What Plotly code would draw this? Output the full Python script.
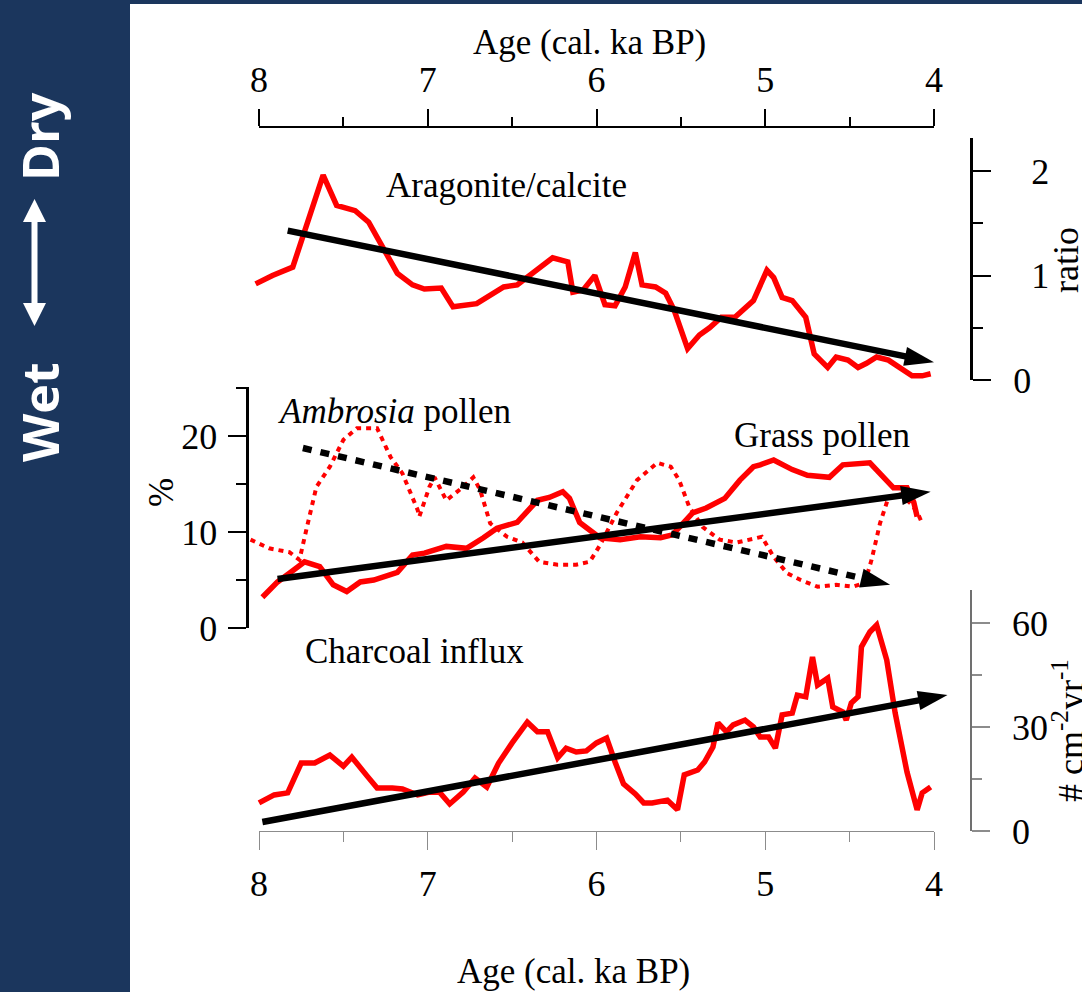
import plotly.graph_objects as go

W, H = 1082, 992

# ---------------- data ----------------
arag_age = [8.02, 7.92, 7.80, 7.62, 7.54, 7.43, 7.35, 7.27, 7.18, 7.09, 7.02, 6.92, 6.85,
            6.71, 6.55, 6.47, 6.38, 6.26, 6.17, 6.14, 6.08, 6.01, 5.95, 5.89, 5.83, 5.77,
            5.73, 5.65, 5.59, 5.54, 5.46, 5.39, 5.33, 5.26, 5.18, 5.13, 5.07, 4.99, 4.95,
            4.90, 4.84, 4.76, 4.71, 4.63, 4.58, 4.51, 4.45, 4.40, 4.34, 4.27, 4.20, 4.13,
            4.07, 4.02]
arag_ratio = [0.92, 1.00, 1.08, 1.96, 1.67, 1.62, 1.51, 1.27, 1.02, 0.91, 0.87, 0.88, 0.70,
              0.73, 0.89, 0.91, 1.02, 1.17, 1.13, 0.84, 0.86, 1.00, 0.72, 0.71, 0.89, 1.22,
              0.91, 0.89, 0.83, 0.67, 0.30, 0.43, 0.50, 0.60, 0.60, 0.67, 0.76, 1.05, 0.98,
              0.79, 0.76, 0.60, 0.25, 0.12, 0.22, 0.19, 0.12, 0.16, 0.22, 0.19, 0.11, 0.04,
              0.04, 0.06]

grass_age = [7.98, 7.89, 7.82, 7.73, 7.64, 7.56, 7.48, 7.40, 7.32, 7.24, 7.18, 7.09, 7.02,
             6.89, 6.77, 6.67, 6.59, 6.47, 6.35, 6.28, 6.20, 6.16, 6.10, 5.98, 5.86, 5.74,
             5.62, 5.55, 5.43, 5.35, 5.24, 5.15, 5.07, 5.03, 4.95, 4.84, 4.75, 4.62, 4.54,
             4.38, 4.31, 4.24, 4.16, 4.12, 4.10]
grass_pct = [3.2, 4.8, 5.7, 6.9, 6.4, 4.5, 3.8, 4.8, 5.0, 5.5, 5.8, 7.6, 7.8,
             8.5, 8.3, 9.4, 10.4, 11.0, 13.3, 13.6, 14.2, 13.5, 11.0, 9.4, 9.2, 9.5,
             9.4, 9.7, 12.0, 12.5, 13.5, 15.4, 16.8, 17.0, 17.5, 16.5, 15.9, 15.7, 17.0,
             17.2, 15.9, 14.6, 14.6, 13.1, 11.6]

ambro_age = [8.05, 7.94, 7.82, 7.76, 7.72, 7.66, 7.58, 7.50, 7.42, 7.30, 7.22, 7.15, 7.06,
             7.05, 6.99, 6.96, 6.89, 6.79, 6.73, 6.69, 6.63, 6.53, 6.44, 6.34, 6.23, 6.12,
             6.04, 5.98, 5.88, 5.76, 5.64, 5.56, 5.51, 5.45, 5.37, 5.27, 5.17, 5.09, 5.02,
             4.95, 4.87, 4.79, 4.69, 4.58, 4.48, 4.41, 4.37, 4.32, 4.27, 4.20, 4.14, 4.10,
             4.07]
ambro_pct = [9.2, 8.3, 7.9, 7.1, 10.2, 14.7, 16.8, 19.6, 20.8, 20.8, 17.8, 16.1, 12.3,
             11.6, 14.7, 15.7, 13.3, 14.7, 15.7, 14.4, 10.9, 9.5, 8.9, 6.9, 6.6, 6.6,
             6.9, 8.6, 12.0, 15.4, 17.2, 16.8, 15.4, 12.6, 10.5, 9.2, 8.9, 9.2, 9.5,
             7.4, 5.7, 5.0, 4.3, 4.5, 4.3, 4.7, 7.1, 10.9, 13.6, 13.9, 13.0, 12.1,
             10.9]

char_age = [8.00, 7.91, 7.83, 7.75, 7.67, 7.58, 7.50, 7.45, 7.36, 7.30, 7.21, 7.15, 7.06,
            6.99, 6.93, 6.87, 6.79, 6.72, 6.65, 6.58, 6.50, 6.41, 6.35, 6.29, 6.23, 6.18,
            6.12, 6.06, 6.00, 5.94, 5.89, 5.84, 5.77, 5.72, 5.67, 5.58, 5.52, 5.48, 5.40,
            5.36, 5.31, 5.28, 5.23, 5.19, 5.12, 5.07, 5.03, 4.98, 4.94, 4.90, 4.84, 4.81,
            4.76, 4.72, 4.69, 4.63, 4.60, 4.54, 4.52, 4.49, 4.45, 4.43, 4.38, 4.34, 4.28,
            4.23, 4.16, 4.10, 4.07, 4.02]
char_flux = [8.1, 10.4, 11.0, 19.6, 19.6, 21.9, 18.7, 21.3, 15.9, 12.4, 12.4, 12.1, 10.4,
             11.2, 11.2, 7.8, 11.2, 15.3, 12.7, 19.6, 25.4, 31.4, 28.6, 28.6, 21.1, 23.9,
             22.8, 23.1, 25.4, 26.8, 19.9, 13.6, 10.7, 8.1, 8.1, 8.9, 6.1, 16.2, 17.6,
             19.9, 24.2, 31.2, 28.6, 30.6, 32.0, 30.0, 27.1, 27.1, 23.9, 33.5, 34.0, 39.2,
             38.7, 50.2, 42.1, 44.1, 35.8, 34.3, 32.0, 36.9, 38.7, 53.1, 57.4, 59.4, 49.3,
             34.0, 17.0, 6.1, 11.0, 12.7]

# trend arrows: [start, end]
arag_trend_age, arag_trend_val = [7.83, 4.00], [1.43, 0.17]
grass_trend_age, grass_trend_val = [7.89, 4.02], [5.1, 14.2]
ambro_trend_age, ambro_trend_val = [7.74, 4.26], [18.75, 4.5]
char_trend_age, char_trend_val = [7.98, 3.92], [2.6, 39.2]

age_ticks = [8, 7, 6, 5, 4]
age_minor = [7.5, 6.5, 5.5, 4.5]
ratio_ticks = [0, 1, 2]
ratio_text = ["0", "\u00a0\u00a01", "\u00a0\u00a02"]
ratio_minor = [0.5, 1.5]
pct_ticks = [0, 10, 20]
pct_minor = [5, 15, 25]
flux_ticks = [0, 30, 60]
flux_minor = [15, 45]

# ---------------- layout geometry (pixels) ----------------
X8, X4 = 259, 934
PER_KA = (X4 - X8) / 4.0


def fx(p):
    return p / W


def fy(p):
    return 1 - p / H


def age_at(p):
    return 8 - (p - X8) / PER_KA


SERIF = "Liberation Serif, Times New Roman, serif"
RED = "#ff0000"
NAVY = "#1b365d"

fig = go.Figure()


def red_line(x, y, ya, dash=None, width=5.5):
    fig.add_trace(go.Scatter(x=x, y=y, xaxis="x", yaxis=ya, mode="lines",
                             line=dict(color=RED, width=width, dash=dash),
                             hoverinfo="skip", showlegend=False))


def trend(x, y, ya, dash=None):
    fig.add_trace(go.Scatter(x=x, y=y, xaxis="x", yaxis=ya, mode="lines+markers",
                             line=dict(color="black", width=6.5, dash=dash),
                             marker=dict(symbol="arrow", size=31, angleref="previous",
                                         color="black"),
                             hoverinfo="skip", showlegend=False))


red_line(arag_age, arag_ratio, "y")
trend(arag_trend_age, arag_trend_val, "y")
red_line(ambro_age, ambro_pct, "y2", dash="5px,5px", width=4)
red_line(grass_age, grass_pct, "y2")
trend(grass_trend_age, grass_trend_val, "y2")
trend(ambro_trend_age, ambro_trend_val, "y2", dash="9px,9px")
red_line(char_age, char_flux, "y3")
trend(char_trend_age, char_trend_val, "y3")

# carriers for the two visible age axes
fig.add_trace(go.Scatter(x=[8, 4], y=[None, None], xaxis="x2", yaxis="y",
                         mode="lines", hoverinfo="skip", showlegend=False))
fig.add_trace(go.Scatter(x=[8, 4], y=[None, None], xaxis="x3", yaxis="y3",
                         mode="lines", hoverinfo="skip", showlegend=False))

tickfont = dict(family=SERIF, size=36, color="black")

# y geometry
ARAG0, ARAG_PPU, ARAG_TOP = 380, 104.5, 138
PCT0, PCT_PPU, PCT_TOP = 628, 9.6, 387
FLX0, FLX_PPU, FLX_TOP = 831, 3.467, 590

common = dict(automargin=False, showgrid=False, zeroline=False, tickmode="array",
              tickfont=tickfont, ticks="outside")

fig.update_layout(
    width=W, height=H, margin=dict(l=0, r=0, t=0, b=0, autoexpand=False),
    paper_bgcolor="white", plot_bgcolor="rgba(0,0,0,0)", showlegend=False,
    xaxis=dict(domain=[fx(240), fx(960)], range=[age_at(240), age_at(960)],
               visible=False, anchor="y", automargin=False),
    xaxis2=dict(domain=[fx(X8), fx(X4)], range=[8, 4], anchor="free", position=fy(127),
                side="top", showline=True, linecolor="black", linewidth=1.5,
                ticklen=17, tickwidth=1.5, tickcolor="black", tickvals=age_ticks,
                ticklabelstandoff=3,
                minor=dict(tickmode="array", tickvals=age_minor, ticks="outside",
                           ticklen=9, tickwidth=1.5, tickcolor="black", showgrid=False),
                **common),
    xaxis3=dict(domain=[fx(X8), fx(X4)], range=[8, 4], anchor="free", position=fy(FLX0),
                side="bottom", showline=True, linecolor="#8c8c8c", linewidth=1,
                ticklen=18, tickwidth=1, tickcolor="#8c8c8c", tickvals=age_ticks,
                ticklabelstandoff=3,
                minor=dict(tickmode="array", tickvals=age_minor, ticks="outside",
                           ticklen=10, tickwidth=1, tickcolor="#8c8c8c", showgrid=False),
                **common),
    yaxis=dict(domain=[fy(ARAG0), fy(ARAG_TOP)], range=[0, (ARAG0 - ARAG_TOP) / ARAG_PPU],
               anchor="free", position=fx(971), side="right", showline=True,
               linecolor="black", linewidth=3, ticklen=18, tickwidth=1.5,
               tickcolor="black", tickvals=ratio_ticks, ticktext=ratio_text,
               ticklabelstandoff=15,
               minor=dict(tickmode="array", tickvals=ratio_minor, ticks="outside",
                          ticklen=10, tickwidth=1.5, tickcolor="black", showgrid=False),
               **common),
    yaxis2=dict(domain=[fy(PCT0), fy(PCT_TOP)], range=[0, (PCT0 - PCT_TOP) / PCT_PPU],
                anchor="free", position=fx(246.5), side="left", showline=True,
                linecolor="black", linewidth=3, ticklen=18, tickwidth=1.5,
                tickcolor="black", tickvals=pct_ticks, ticklabelstandoff=3,
                minor=dict(tickmode="array", tickvals=pct_minor, ticks="outside",
                           ticklen=10, tickwidth=1.5, tickcolor="black", showgrid=False),
                **common),
    yaxis3=dict(domain=[fy(FLX0), fy(FLX_TOP)], range=[0, (FLX0 - FLX_TOP) / FLX_PPU],
                anchor="free", position=fx(971), side="right", showline=True,
                linecolor="#707070", linewidth=1.5, ticklen=18,
                tickwidth=1.5, tickcolor="#8c8c8c", tickvals=flux_ticks,
                ticklabelstandoff=15,
                minor=dict(tickmode="array", tickvals=flux_minor, ticks="outside",
                           ticklen=10, tickwidth=1.5, tickcolor="#8c8c8c", showgrid=False),
                **common),
)

# ---------------- sidebar decoration ----------------
arrow_pts = [(34.5, 199), (46, 222), (37.5, 222), (37.5, 303), (46, 303), (34.5, 326),
             (23, 303), (31.5, 303), (31.5, 222), (23, 222)]
path = "M " + " L ".join(f"{fx(a):.5f},{fy(b):.5f}" for a, b in arrow_pts) + " Z"
fig.update_layout(shapes=[
    dict(type="rect", xref="paper", yref="paper", x0=0, x1=fx(130), y0=0, y1=1,
         fillcolor=NAVY, line=dict(width=0), layer="below"),
    dict(type="rect", xref="paper", yref="paper", x0=0, x1=1, y0=fy(4), y1=1,
         fillcolor=NAVY, line=dict(width=0), layer="below"),
    dict(type="path", xref="paper", yref="paper", path=path, fillcolor="white",
         line=dict(width=0), layer="above"),
])


def label(text, x, y, size=35, angle=0, family=SERIF, color="black", weight="normal"):
    fig.add_annotation(text=text, x=fx(x), y=fy(y), xref="paper", yref="paper",
                       showarrow=False, textangle=angle, xanchor="center",
                       yanchor="middle",
                       font=dict(family=family, size=size, color=color, weight=weight))


label("Age (cal. ka BP)", 589, 43)
label("Age (cal. ka BP)", 573, 971)
label("Aragonite/calcite", 506, 185)
label("<i>Ambrosia</i> pollen", 394, 411)
label("Grass pollen", 822, 436)
label("Charcoal influx", 414, 651)
label("ratio", 1066, 260, size=36, angle=-90)
label("%", 161, 493, size=35, angle=-90)
label("# cm<sup>-2</sup>yr<sup>-1</sup>", 1068, 731, size=36, angle=-90)
label("Wet", 40, 412, size=50, angle=-90, family="Open Sans", color="white", weight="bold")
label("Dry", 40, 137, size=50, angle=-90, family="Open Sans", color="white", weight="bold")

fig.write_html("out.html", config={"displayModeBar": False})
